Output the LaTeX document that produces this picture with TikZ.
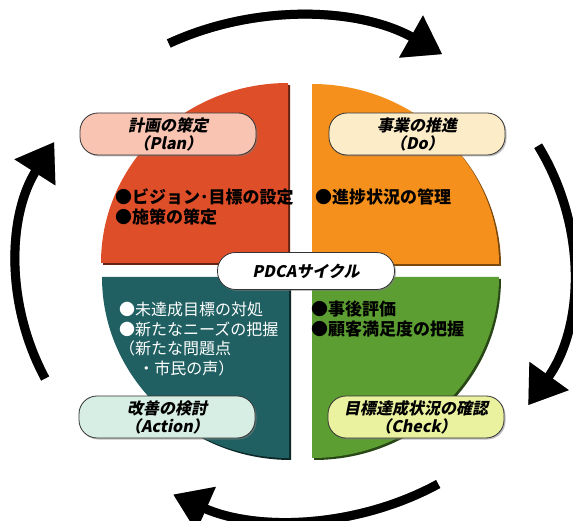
\documentclass[tikz,border=0pt]{standalone}
\usepackage{fontspec}
\usepackage{tikz}
\usetikzlibrary{arrows.meta}
\usetikzlibrary{shadows}
\newfontfamily\jp{Noto Sans CJK JP}
\newfontfamily\jpit[FakeSlant=0.2]{Noto Sans CJK JP}
\definecolor{planred}{RGB}{222,78,40}
\definecolor{doorange}{RGB}{245,144,28}
\definecolor{actteal}{RGB}{32,96,98}
\definecolor{checkgreen}{RGB}{92,158,50}
\definecolor{planfill}{RGB}{249,196,178}
\definecolor{dofill}{RGB}{252,236,200}
\definecolor{actfill}{RGB}{214,238,228}
\definecolor{checkfill}{RGB}{234,242,160}
\tikzset{
  stagebox/.style={draw=black!80, line width=0.8pt, rounded corners=18pt,
    minimum width=176pt, minimum height=42pt, align=center, inner sep=1pt,
    font=\jpit\bfseries\fontsize{16}{18}\selectfont,
    drop shadow={shadow xshift=1.5pt, shadow yshift=-1.5pt, fill=black!50}},
  bullets/.style={anchor=west, align=left, inner sep=0pt,
    font=\jp\bfseries\fontsize{17}{19.5}\selectfont},
  cyclearrow/.style={line width=9pt, -{Triangle[length=36pt,width=46pt]}},
}

\begin{document}
\begin{tikzpicture}[x=1pt,y=1pt]
\useasboundingbox (0,0) rectangle (573,520);
\coordinate (C) at (295,252);
% cycle arrows
\coordinate (top start) at ([shift={(117:278pt and 252pt)}]C);
\coordinate (right start) at ([shift={(29:278pt and 252pt)}]C);
\coordinate (bottom start) at ([shift={(-59:278pt and 252pt)}]C);
\coordinate (left start) at ([shift={(206:278pt and 252pt)}]C);
\begin{scope}[xshift=3pt,yshift=-3pt,black!45]
\draw[cyclearrow] (top start) arc[start angle=117, end angle=58, x radius=278pt, y radius=252pt];
\draw[cyclearrow] (right start) arc[start angle=29, end angle=-33, x radius=278pt, y radius=252pt];
\draw[cyclearrow] (bottom start) arc[start angle=-59, end angle=-116, x radius=278pt, y radius=252pt];
\draw[cyclearrow] (left start) arc[start angle=206, end angle=150, x radius=278pt, y radius=252pt];
\end{scope}
\draw[cyclearrow] (top start) arc[start angle=117, end angle=58, x radius=278pt, y radius=252pt];
\draw[cyclearrow] (right start) arc[start angle=29, end angle=-33, x radius=278pt, y radius=252pt];
\draw[cyclearrow] (bottom start) arc[start angle=-59, end angle=-116, x radius=278pt, y radius=252pt];
\draw[cyclearrow] (left start) arc[start angle=206, end angle=150, x radius=278pt, y radius=252pt];
% quarters
\fill[planred!45!black, xshift=2pt, yshift=-2pt] (288,257) -- ++(-187,0) arc[start angle=180, end angle=90, x radius=187pt, y radius=180pt] -- cycle;
\fill[planred] (288,257) -- ++(-187,0) arc[start angle=180, end angle=90, x radius=187pt, y radius=180pt] -- cycle;
\fill[doorange!50!black, xshift=2pt, yshift=-2pt] (312,256) -- ++(0,180) arc[start angle=90, end angle=0, x radius=187pt, y radius=180pt] -- cycle;
\fill[doorange] (312,256) -- ++(0,180) arc[start angle=90, end angle=0, x radius=187pt, y radius=180pt] -- cycle;
\fill[actteal!40!black, xshift=2pt, yshift=-2pt] (289,243) -- ++(-187,0) arc[start angle=180, end angle=270, x radius=187pt, y radius=181pt] -- cycle;
\fill[actteal] (289,243) -- ++(-187,0) arc[start angle=180, end angle=270, x radius=187pt, y radius=181pt] -- cycle;
\fill[checkgreen!45!black, xshift=2pt, yshift=-2pt] (312,243) -- ++(187,0) arc[start angle=0, end angle=-90, x radius=187pt, y radius=181pt] -- cycle;
\fill[checkgreen] (312,243) -- ++(187,0) arc[start angle=0, end angle=-90, x radius=187pt, y radius=181pt] -- cycle;
% stage boxes
\node[stagebox, fill=planfill] (plan) at (168,386) {計画の策定\\（Plan）};
\node[stagebox, fill=dofill] (do) at (417,386) {事業の推進\\（Do）};
\node[stagebox, fill=actfill] (action) at (167,103) {改善の検討\\（Action）};
\node[stagebox, fill=checkfill] (check) at (416,103) {目標達成状況の確認\\（Check）};
\node[stagebox, fill=white, minimum width=177pt, minimum height=37pt] (pdca) at (306,249) {PDCAサイクル};
% bullet texts
\node[bullets] (plan items) at (115,313) {●ビジョン･目標の設定\\●施策の策定};
\node[bullets] (do items) at (315,323) {●進捗状況の管理};
\node[bullets, text=white, font=\jp\fontsize{16}{19.5}\selectfont] (action items) at (119,181) {●未達成目標の対処\\●新たなニーズの把握\\（新たな問題点\\\hspace{1.2em}・市民の声）};
\node[bullets] (check items) at (311,201) {●事後評価\\●顧客満足度の把握};
\end{tikzpicture}
\end{document}
